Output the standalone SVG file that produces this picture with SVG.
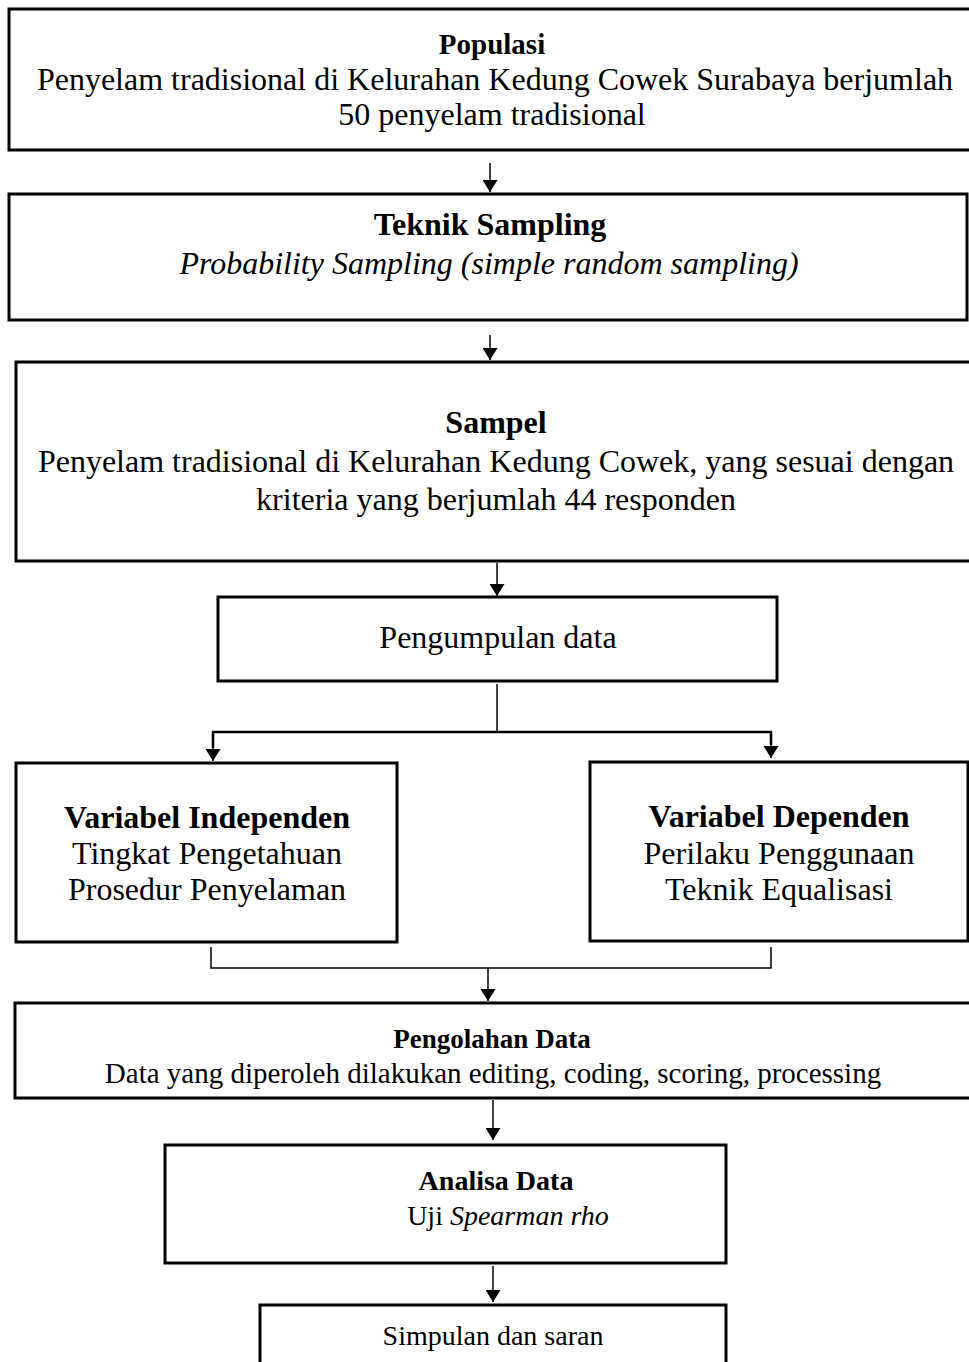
<svg xmlns="http://www.w3.org/2000/svg" width="969" height="1362" viewBox="0 0 969 1362">
<style>
.box{fill:#fff;stroke:#000;stroke-width:3}
.t{font-family:"Liberation Serif","Times New Roman",serif;fill:#000;text-anchor:middle}
.b{font-weight:bold}
.i{font-style:italic}
.c{fill:none;stroke:#000;stroke-width:1.5}
.ct{fill:none;stroke:#000;stroke-width:2.5}
</style>
<defs>
<marker id="ah" viewBox="0 0 12 15" refX="12" refY="7.5" markerWidth="12" markerHeight="15" markerUnits="userSpaceOnUse" orient="auto">
<path d="M0,0 L12,7.5 L0,15 Z" fill="#000"/>
</marker>
</defs>
<rect width="969" height="1362" fill="#fff"/>
<g id="connectors">
<line class="c" x1="490" y1="163" x2="490" y2="192" marker-end="url(#ah)"/>
<line class="c" x1="490" y1="335" x2="490" y2="360" marker-end="url(#ah)"/>
<line class="c" x1="497" y1="563" x2="497" y2="596" marker-end="url(#ah)"/>
<line class="c" x1="497" y1="684" x2="497" y2="732"/>
<polyline class="ct" points="213,748 213,732 771,732 771,745"/>
<line class="c" x1="213" y1="735" x2="213" y2="761" marker-end="url(#ah)"/>
<line class="c" x1="771" y1="735" x2="771" y2="758" marker-end="url(#ah)"/>
<polyline class="c" points="211,947 211,968 771,968 771,947"/>
<line class="c" x1="488" y1="968" x2="488" y2="1001" marker-end="url(#ah)"/>
<line class="c" x1="493" y1="1100" x2="493" y2="1140" marker-end="url(#ah)"/>
<line class="c" x1="493" y1="1266" x2="493" y2="1302" marker-end="url(#ah)"/>
</g>
<g id="populasi">
<rect class="box" x="9" y="9" width="975" height="141"/>
<text class="t b" x="492" y="54" font-size="29">Populasi</text>
<text class="t" x="495" y="90" font-size="32">Penyelam tradisional di Kelurahan Kedung Cowek Surabaya berjumlah</text>
<text class="t" x="492" y="125" font-size="32">50 penyelam tradisional</text>
</g>
<g id="teknik-sampling">
<rect class="box" x="9" y="194" width="958" height="126"/>
<text class="t b" x="490" y="235" font-size="32">Teknik Sampling</text>
<text class="t i" x="489" y="274" font-size="32">Probability Sampling (simple random sampling)</text>
</g>
<g id="sampel">
<rect class="box" x="16" y="362" width="970" height="199"/>
<text class="t b" x="496" y="433" font-size="32">Sampel</text>
<text class="t" x="496" y="472" font-size="32">Penyelam tradisional di Kelurahan Kedung Cowek, yang sesuai dengan</text>
<text class="t" x="496" y="510" font-size="32">kriteria yang berjumlah 44 responden</text>
</g>
<g id="pengumpulan">
<rect class="box" x="218" y="597" width="559" height="84"/>
<text class="t" x="498" y="648" font-size="32">Pengumpulan data</text>
</g>
<g id="independen">
<rect class="box" x="16" y="763" width="381" height="179"/>
<text class="t b" x="207" y="828" font-size="32">Variabel Independen</text>
<text class="t" x="207" y="864" font-size="32">Tingkat Pengetahuan</text>
<text class="t" x="207" y="900" font-size="32">Prosedur Penyelaman</text>
</g>
<g id="dependen">
<rect class="box" x="590" y="762" width="378" height="179"/>
<text class="t b" x="779" y="827" font-size="32">Variabel Dependen</text>
<text class="t" x="779" y="864" font-size="32">Perilaku Penggunaan</text>
<text class="t" x="779" y="900" font-size="32">Teknik Equalisasi</text>
</g>
<g id="pengolahan">
<rect class="box" x="15" y="1003" width="975" height="95"/>
<text class="t b" x="492" y="1048" font-size="27">Pengolahan Data</text>
<text class="t" x="493" y="1083" font-size="29">Data yang diperoleh dilakukan editing, coding, scoring, processing</text>
</g>
<g id="analisa">
<rect class="box" x="165" y="1145" width="561" height="118"/>
<text class="t b" x="496" y="1190" font-size="28">Analisa Data</text>
<text class="t" x="508" y="1225" font-size="28">Uji <tspan class="i">Spearman rho</tspan></text>
</g>
<g id="simpulan">
<rect class="box" x="260" y="1305" width="466" height="80"/>
<text class="t" x="493" y="1345" font-size="28">Simpulan dan saran</text>
</g>
</svg>
